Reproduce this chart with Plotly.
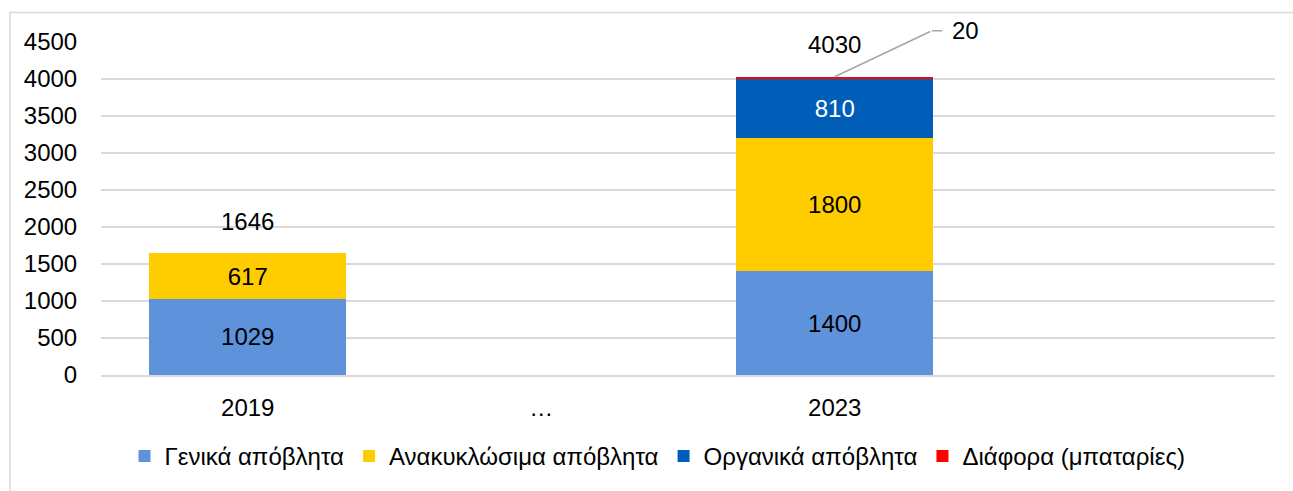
import plotly.graph_objects as go

categories = ["2019", "…", "2023"]
general = [1029, None, 1400]
recyclable = [617, None, 1800]
organic = [None, None, 810]
misc = [None, None, 20]
series_names = ["Γενικά απόβλητα", "Ανακυκλώσιμα απόβλητα", "Οργανικά απόβλητα", "Διάφορα (μπαταρίες)"]
colors = ["#5E92DA", "#FFCC00", "#005EB8", "#FF0000"]
y_ticks = [0, 500, 1000, 1500, 2000, 2500, 3000, 3500, 4000, 4500]

W, H = 1293, 491
ML, MR, MT, MB = 101, 18, 42, 109
FONT = "Liberation Sans, Arial, sans-serif"
FS = 24

fig = go.Figure()
series = [general, recyclable, organic, misc]
text_colors = ["black", "black", "white", "black"]
for i, (name, vals) in enumerate(zip(series_names, series)):
    show_text = i < 3
    fig.add_trace(go.Bar(
        x=categories, y=vals, name=name,
        marker=dict(color=colors[i], line=dict(width=0)),
        text=[(str(v) if v is not None else "") for v in vals] if show_text else None,
        textposition="inside" if show_text else "none",
        insidetextanchor="middle",
        textangle=0,
        insidetextfont=dict(family=FONT, size=FS, color=text_colors[i]),
        hoverinfo="x+y+name",
    ))

# totals above stacks (x given as category index)
totals = [sum((ser[j] or 0) for ser in series) for j in range(len(categories))]
for j in range(len(categories)):
    if totals[j] > 0:
        fig.add_annotation(x=j, y=totals[j], xref="x", yref="y", text=str(totals[j]),
                           showarrow=False, yshift=32,
                           font=dict(family=FONT, size=FS, color="black"))

# leader line label for the small "misc" value in 2023
j = 2
top = totals[j]
fig.add_annotation(x=j, y=top, xref="x", yref="y", text="",
                   showarrow=True, arrowhead=0, arrowwidth=1.5, arrowcolor="#A6A6A6",
                   ax=97, ay=-46, standoff=0, startstandoff=0)
fig.add_annotation(x=j, y=top, xref="x", yref="y", text="",
                   xshift=97, yshift=46,
                   showarrow=True, arrowhead=0, arrowwidth=1.5, arrowcolor="#A6A6A6",
                   ax=12, ay=0, standoff=0, startstandoff=0)
fig.add_annotation(x=j, y=top, xref="x", yref="y", text=str(misc[j]),
                   showarrow=False, xshift=131, yshift=46,
                   font=dict(family=FONT, size=FS, color="black"))

pw = W - ML - MR
ph = H - MT - MB
fig.add_shape(type="rect", xref="paper", yref="paper",
              x0=(10 - ML) / pw, x1=(W + 20 - ML) / pw,
              y0=-(H + 20 - MT - ph) / ph, y1=(H - MB - 12) / ph,
              line=dict(color="#D9D9D9", width=1.5), fillcolor="rgba(0,0,0,0)", layer="below")

fig.update_layout(
    width=W, height=H,
    margin=dict(l=ML, r=MR, t=MT, b=MB),
    barmode="stack", bargap=0.33,
    plot_bgcolor="white", paper_bgcolor="white",
    font=dict(family=FONT, size=FS, color="black"),
    showlegend=True,
    legend=dict(orientation="h", x=0.474, xanchor="center", y=(H - MB - 465) / ph, yanchor="middle",
                font=dict(family=FONT, size=FS, color="black"),
                itemwidth=30, traceorder="normal"),
    xaxis=dict(type="category", range=[-0.5, 3.5], showgrid=False,
               showline=True, linecolor="#D9D9D9", linewidth=1.5,
               ticks="outside", ticklen=10, tickcolor="rgba(0,0,0,0)",
               tickfont=dict(family=FONT, size=FS, color="black")),
    yaxis=dict(range=[0, 4500], tickvals=y_ticks, showgrid=True, gridcolor="#D9D9D9", gridwidth=1.5,
               zeroline=False, showline=False,
               ticks="outside", ticklen=18, tickcolor="rgba(0,0,0,0)",
               tickfont=dict(family=FONT, size=FS, color="black")),
)

fig.write_html("out.html", config={"displayModeBar": False},
               post_script="document.body.style.margin='0';")
